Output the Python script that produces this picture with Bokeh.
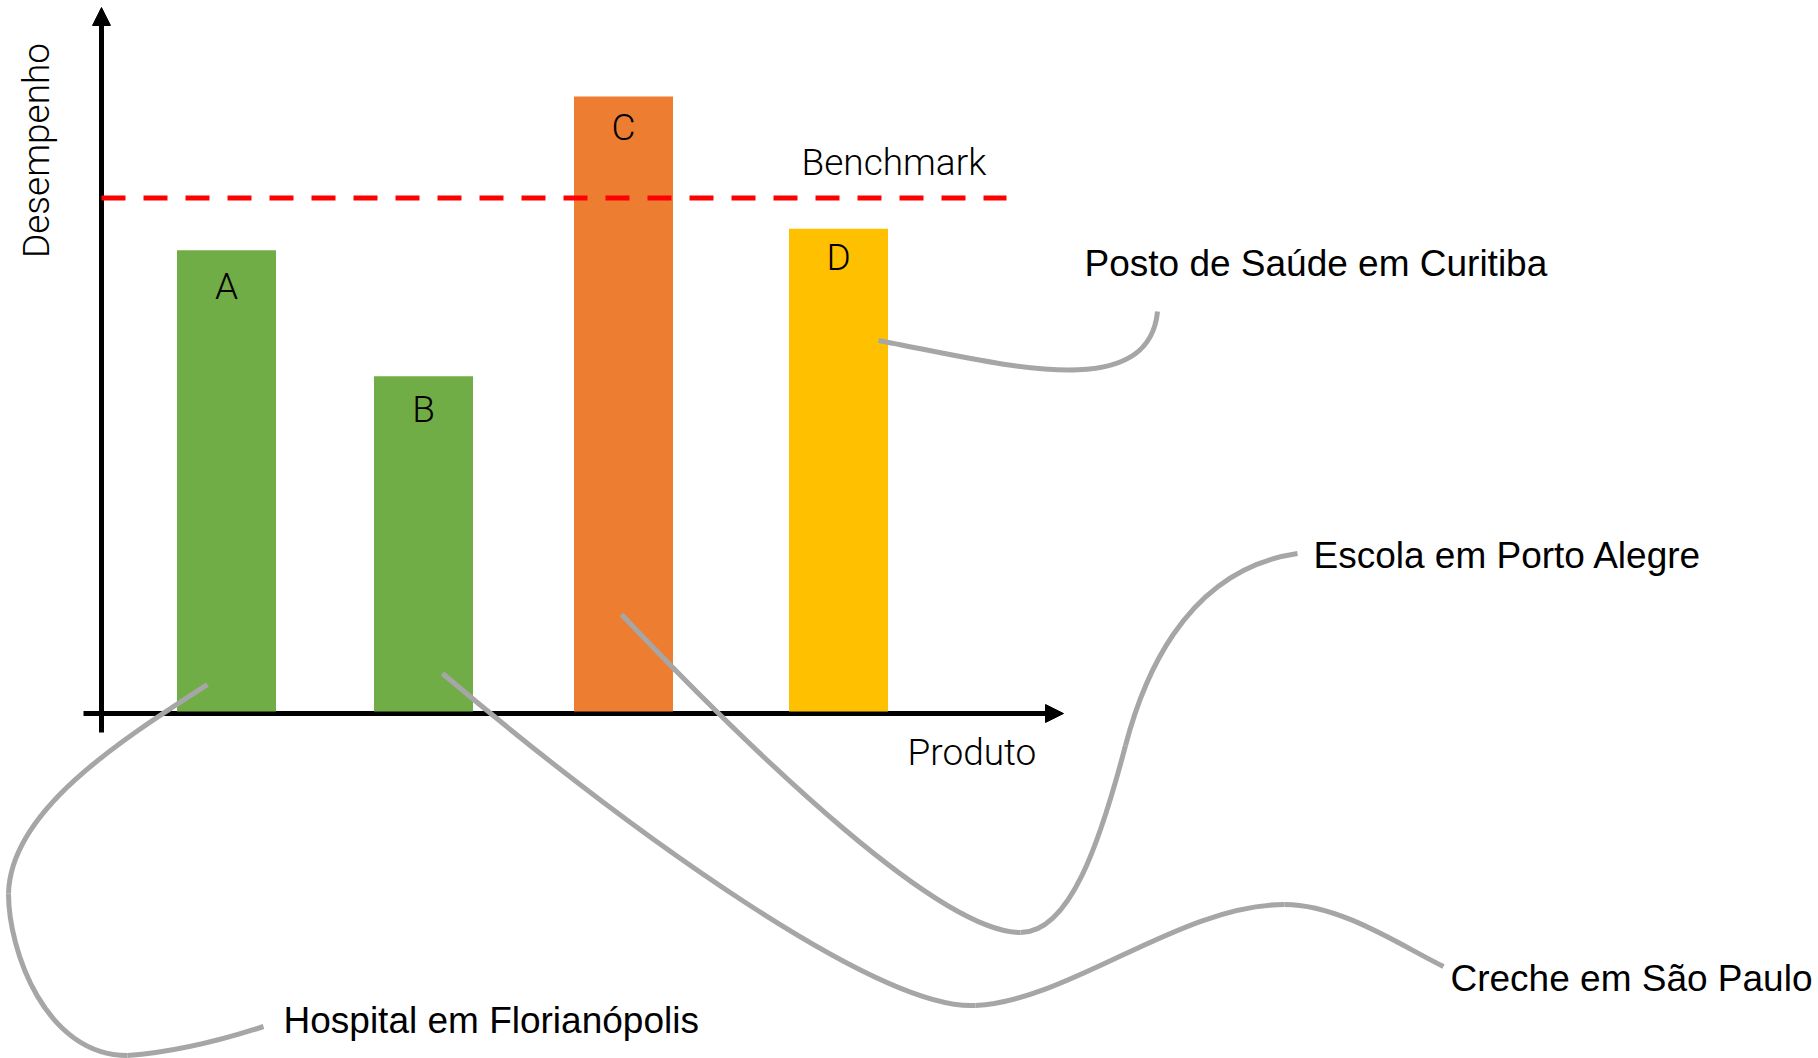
import math

from bokeh.core.properties import value
from bokeh.embed import file_html
from bokeh.models import Arrow, NormalHead, Range1d
from bokeh.plotting import figure
from bokeh.resources import INLINE

# ---- data -------------------------------------------------------------
produtos = ["A", "B", "C", "D"]
desempenho = [75.0, 54.5, 100.0, 78.5]
benchmark = 83.5
cores = ["#70AD47", "#70AD47", "#ED7D31", "#FFC000"]
unidades = ["Hospital em Florianópolis", "Creche em São Paulo",
            "Escola em Porto Alegre", "Posto de Saúde em Curitiba"]

# ---- layout -----------------------------------------------------------
W, H = 1818, 1058
BASE_PX = 711          # page row of the zero line
PX_PER_UNIT = 6.15     # page pixels per unit of "Desempenho"
bar_centres = [226, 423, 623, 838]
BAR_W = 99
letter_drop = [36, 33, 31, 29]   # px from bar top to letter centre

SANS = value("Liberation Sans")
THIN = value("Roboto Light")
GREY = "#A6A6A6"

p = figure(width=W, height=H, output_backend="svg", toolbar_location=None,
           x_range=Range1d(0, W),
           y_range=Range1d(-(H - BASE_PX) / PX_PER_UNIT, BASE_PX / PX_PER_UNIT),
           x_axis_location=None, y_axis_location=None,
           min_border=0, outline_line_color=None, background_fill_color="white")
p.grid.visible = False
p.extra_y_ranges = {"page": Range1d(H, 0)}

# bars
p.vbar(x=bar_centres, width=BAR_W, bottom=0, top=desempenho,
       fill_color=cores, line_color=None)

# benchmark line
p.segment(x0=[101], y0=[benchmark], x1=[1006], y1=[benchmark],
          line_color="#FF0000", line_width=5, line_dash="24 18")

# hand-drawn style axes with arrow heads
for xs, ys, xe, ye in [(101, 732, 101, 7), (83, 713, 1063, 713)]:
    p.add_layout(Arrow(x_start=xs, y_start=ys, x_end=xe, y_end=ye,
                       y_range_name="page", line_width=5, line_color="black",
                       level="underlay",
                       end=NormalHead(size=18, fill_color="black",
                                      line_color="black", line_width=1)))

# connector curves from each bar to its label (cubic segments)
connectors = [
    # Hospital em Florianópolis (bar A)
    [(207, 684), (120, 740), (10, 810), (8, 893)],
    [(8, 893), (8, 950), (45, 1055), (127, 1055)],
    [(127, 1055), (170, 1052), (220, 1040), (263, 1026)],
    # Creche em São Paulo (bar B)
    [(442, 673), (640, 840), (880, 1010), (975, 1005)],
    [(975, 1005), (1070, 1000), (1180, 904), (1284, 904)],
    [(1284, 904), (1340, 904), (1400, 945), (1443, 966)],
    # Escola em Porto Alegre (bar C)
    [(621, 614), (760, 760), (940, 932), (1020, 932)],
    [(1020, 932), (1070, 932), (1100, 840), (1125, 745)],
    [(1125, 745), (1140, 688), (1180, 570), (1297, 553)],
    # Posto de Saúde em Curitiba (bar D)
    [(878, 340), (1000, 363), (1148, 405), (1157, 311)],
]
p.bezier(x0=[c[0][0] for c in connectors], y0=[c[0][1] for c in connectors],
         cx0=[c[1][0] for c in connectors], cy0=[c[1][1] for c in connectors],
         cx1=[c[2][0] for c in connectors], cy1=[c[2][1] for c in connectors],
         x1=[c[3][0] for c in connectors], y1=[c[3][1] for c in connectors],
         y_range_name="page", line_color=GREY, line_width=5)

# bar letters
p.text(x=bar_centres, y=desempenho, text=produtos, y_offset=letter_drop,
       text_align="center", text_baseline="middle",
       text_font=THIN, text_font_size="37px", text_color="black")

# unit labels (vertical centre of each line of text)
p.text(x=[283, 1450, 1313, 1084], y=[1020, 978, 555, 263], text=unidades,
       y_range_name="page", text_align="left", text_baseline="middle",
       text_font=SANS, text_font_size="37px", text_color="black")

# axis titles and benchmark label
p.text(x=[801, 907], y=[162, 752], text=["Benchmark", "Produto"],
       y_range_name="page", text_align="left", text_baseline="middle",
       text_font=THIN, text_font_size="37px", text_color="black")
p.text(x=[36], y=[150], text=["Desempenho"], angle=math.pi / 2,
       y_range_name="page", text_align="center", text_baseline="middle",
       text_font=THIN, text_font_size="37px", text_color="black")

open("out.html", "w").write(file_html(p, INLINE))
